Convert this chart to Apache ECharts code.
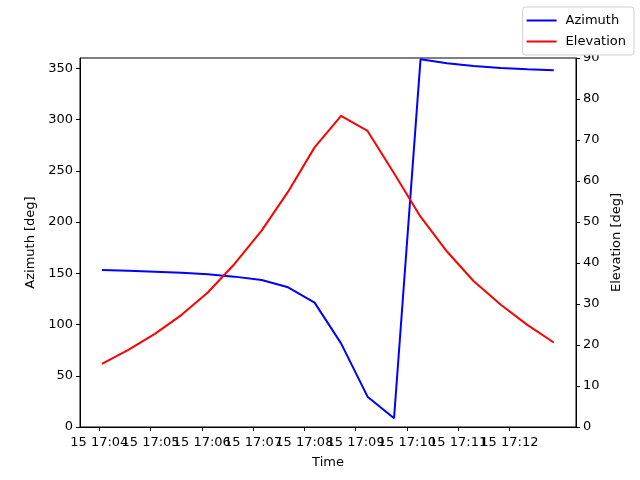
<!DOCTYPE html>
<html>
<head>
<meta charset="utf-8">
<script src="https://cdn.jsdelivr.net/npm/echarts@6/dist/echarts.min.js"></script>
<style>
html, body { margin: 0; padding: 0; background: #fff; }
#main { width: 640px; height: 480px; }
</style>
</head>
<body>
<div id="main"></div>
<script>
// Pass times (day 15)
var times = ['17:04:03', '17:04:34', '17:05:05', '17:05:36', '17:06:07', '17:06:38',
	'17:07:10', '17:07:41', '17:08:12', '17:08:43', '17:09:14', '17:09:45',
	'17:10:16', '17:10:47', '17:11:18', '17:11:50', '17:12:21', '17:12:52'];
var azimuth = [153.2, 152.5, 151.5, 150.5, 149.0, 146.7, 143.4, 136.3, 121.3,
	81.6, 29.6, 8.5, 358.7, 354.8, 352.2, 350.2, 349.0, 348.0];
var elevation = [15.4, 18.8, 22.7, 27.3, 32.8, 39.7, 47.9, 57.4, 68.2,
	75.9, 72.2, 61.9, 51.3, 42.8, 35.6, 29.8, 24.9, 20.6];
// x tick labels
var tickTimes = ['17:04', '17:05', '17:06', '17:07', '17:08', '17:09', '17:10', '17:11', '17:12'];
var dayOfMonth = 15;

// time string -> seconds of the day
function toSec(t) {
	var p = t.split(':');
	return (+p[0]) * 3600 + (+p[1]) * 60 + (p.length > 2 ? +p[2] : 0);
}
function secLabel(v) {
	var h = Math.floor(v / 3600);
	var m = Math.round((v - h * 3600) / 60);
	return dayOfMonth + ' ' + ('0' + h).slice(-2) + ':' + ('0' + m).slice(-2);
}

var azData = [];
var elData = [];
for (var i = 0; i < times.length; i++) {
	azData.push([toSec(times[i]), azimuth[i]]);
	elData.push([toSec(times[i]), elevation[i]]);
}
var tickVals = tickTimes.map(toSec);
// labels overlap like in the original, so split them over two stacked axes
var evenTicks = tickVals.filter(function(v, i) { return i % 2 == 0; });
var oddTicks = tickVals.filter(function(v, i) { return i % 2 == 1; });

var fontFam = 'DejaVu Sans';
var axisText = {
	color : '#000',
	fontFamily : fontFam,
	fontSize : 13
};
var xMin = toSec('17:03:37') + 0.4;
var xMax = toSec('17:13:18');

function timeAxis(ticks, main) {
	return {
		type : 'value',
		position : 'bottom',
		offset : 0,
		min : xMin,
		max : xMax,
		name : main ? 'Time' : '',
		nameLocation : 'middle',
		nameGap : 29,
		nameTextStyle : axisText,
		splitLine : {
			show : false
		},
		axisLine : {
			show : main,
			onZero : false,
			lineStyle : {
				color : '#000'
			}
		},
		axisTick : {
			show : true,
			length : 4,
			customValues : ticks,
			lineStyle : {
				color : '#000'
			}
		},
		axisLabel : {
			color : '#000',
			fontFamily : fontFam,
			fontSize : 13,
			margin : 9,
			interval : 0,
			hideOverlap : false,
			showMinLabel : true,
			showMaxLabel : true,
			customValues : ticks,
			formatter : secLabel
		}
	};
}

var chart = echarts.init(document.getElementById('main'));
chart.setOption({
	animation : false,
	textStyle : {
		fontFamily : fontFam
	},
	grid : {
		left : 80,
		right : 64,
		top : 58,
		bottom : 53,
		show : true,
		borderColor : '#000',
		borderWidth : 1,
		containLabel : false
	},
	legend : {
		orient : 'vertical',
		right : 6,
		top : 7,
		padding : [ 7, 8, 7, 4 ],
		itemGap : 8,
		backgroundColor : '#fff',
		borderColor : '#d0d0d0',
		borderWidth : 1,
		borderRadius : 3,
		icon : 'rect',
		itemWidth : 30,
		itemHeight : 2,
		textStyle : {
			color : '#000',
			fontFamily : fontFam,
			fontSize : 13,
			padding : [ 0, 0, 0, 4 ]
		},
		data : [ 'Azimuth', 'Elevation' ]
	},
	xAxis : [ timeAxis(evenTicks, true), timeAxis(oddTicks, false) ],
	yAxis : [ {
		type : 'value',
		position : 'left',
		min : 0,
		max : 360,
		interval : 50,
		name : 'Azimuth [deg]',
		nameLocation : 'middle',
		nameGap : 42,
		nameRotate : 90,
		nameTextStyle : axisText,
		splitLine : {
			show : false
		},
		axisLine : {
			show : true,
			lineStyle : {
				color : '#000'
			}
		},
		axisTick : {
			show : true,
			length : 4,
			lineStyle : {
				color : '#000'
			}
		},
		axisLabel : {
			color : '#000',
			fontFamily : fontFam,
			fontSize : 13,
			margin : 7,
			showMaxLabel : false
		}
	}, {
		type : 'value',
		position : 'right',
		min : 0,
		max : 90,
		interval : 10,
		name : 'Elevation [deg]',
		nameLocation : 'middle',
		nameGap : 33,
		nameRotate : 90,
		nameTextStyle : axisText,
		splitLine : {
			show : false
		},
		axisLine : {
			show : true,
			lineStyle : {
				color : '#000'
			}
		},
		axisTick : {
			show : true,
			length : 4,
			lineStyle : {
				color : '#000'
			}
		},
		axisLabel : {
			color : '#000',
			fontFamily : fontFam,
			fontSize : 13,
			margin : 7
		}
	} ],
	series : [ {
		name : 'Azimuth',
		type : 'line',
		xAxisIndex : 0,
		yAxisIndex : 0,
		showSymbol : false,
		symbol : 'none',
		lineStyle : {
			color : '#0000ff',
			width : 2
		},
		itemStyle : {
			color : '#0000ff'
		},
		data : azData
	}, {
		name : 'Elevation',
		type : 'line',
		xAxisIndex : 0,
		yAxisIndex : 1,
		showSymbol : false,
		symbol : 'none',
		lineStyle : {
			color : '#ff0000',
			width : 2
		},
		itemStyle : {
			color : '#ff0000'
		},
		data : elData
	} ]
});
</script>
</body>
</html>
